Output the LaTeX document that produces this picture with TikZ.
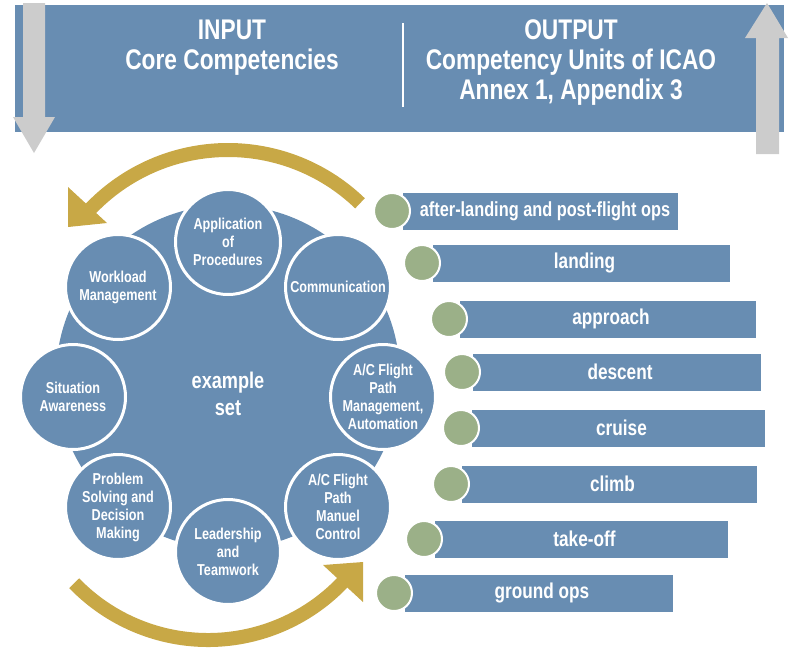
\documentclass[tikz,border=0pt]{standalone}
\usepackage{fontspec}
\setmainfont{Liberation Sans}[FakeStretch=0.8]
\definecolor{bblue}{RGB}{104,141,178}
\definecolor{ggreen}{RGB}{155,176,136}
\definecolor{ggold}{RGB}{200,168,70}
\definecolor{ggray}{RGB}{204,204,204}
\begin{document}
\begin{tikzpicture}[x=1pt,y=-1pt,
  comp/.style={circle,fill=bblue,draw=white,line width=3pt,minimum size=105pt,inner sep=0pt,
    text=white,align=center,font=\fontsize{15.8}{18}\selectfont\bfseries},
  bar/.style={rectangle,fill=bblue,inner sep=0pt,minimum height=37pt},
  bartext/.style={text=white,font=\fontsize{21.5}{24}\selectfont\bfseries,inner sep=0pt},
  dot/.style={circle,fill=ggreen,draw=white,line width=2pt,minimum size=36pt,inner sep=0pt},
  hdr/.style={text=white,align=center,font=\fontsize{28.4}{30}\selectfont\bfseries}]
\useasboundingbox (0,0) rectangle (795,649);
% banner
\fill[bblue] (15,5) rectangle (784,132);
\draw[white,line width=2pt] (403,23) -- (403,107);
\node[hdr] (input) at (232,48) {INPUT\\Core Competencies};
\node[hdr] (output) at (571,63) {OUTPUT\\Competency Units of ICAO\\Annex 1, Appendix 3};
% gray arrows
\fill[ggray] (23,3) -- (45,3) -- (45,117) -- (55,117) -- (34,153) -- (13,117) -- (23,117) -- cycle;
\fill[ggray] (756,154) -- (779,154) -- (779,38) -- (788,38) -- (767,3) -- (745,38) -- (756,38) -- cycle;
% gold arrows
\draw[ggold,line width=14pt] (228,340) ++(-46:190) arc[start angle=-46,end angle=-137,radius=190];
\fill[ggold] (68,187) -- (107,223) -- (68,227) -- cycle;
\draw[ggold,line width=14pt] (208,454) ++(136:186) arc[start angle=136,end angle=42,radius=186];
\fill[ggold] (323,565) -- (363,562) -- (363,602) -- cycle;
% big circle
\node[circle,fill=bblue,minimum size=344pt,inner sep=0pt] (core) at (228,377) {};
\node[text=white,align=center,font=\fontsize{22.7}{27}\selectfont\bfseries] (ex) at (228,394) {example\\set};
% competencies
\node[comp] (apf) at (228,242) {Application\\of\\Procedures};
\node[comp] (com) at (338,287) {Communication};
\node[comp] (fpa) at (383,397) {A/C Flight\\Path\\Management,\\Automation};
\node[comp] (fpm) at (338,507) {A/C Flight\\Path\\Manuel\\Control};
\node[comp] (ltw) at (228,552) {Leadership\\and\\Teamwork};
\node[comp] (psd) at (118,507) {Problem\\Solving and\\Decision\\Making};
\node[comp] (sa) at (73,397) {Situation\\Awareness};
\node[comp] (wm) at (118,287) {Workload\\Management};
% phases
\foreach \n/\xl/\xr/\yc/\t in {
  b2/433/730/263/landing,
  b3/460/756/319/approach,
  b4/473/761/372/descent,
  b5/472/765/428/cruise,
  b6/462/757/484/climb,
  b7/435/728/539/take-off,
  b8/405/673/593/ground ops}{
  \node[bar,minimum width={(\xr-\xl)*1pt}] (\n) at ({(\xl+\xr)/2},\yc) {};
  \node[bartext] (\n t) at ({(\xl+\xr)/2+3},\yc) {\t};
  \node[dot] (\n d) at (\xl-11,\yc) {};
}
\node[bar,minimum width=275pt] (b1) at (540.5,211) {};
\node[bartext,font=\fontsize{20.4}{24}\selectfont\bfseries] (b1t) at (545,211) {after-landing and post-flight ops};
\node[dot] (b1d) at (392,211) {};
\end{tikzpicture}
\end{document}
